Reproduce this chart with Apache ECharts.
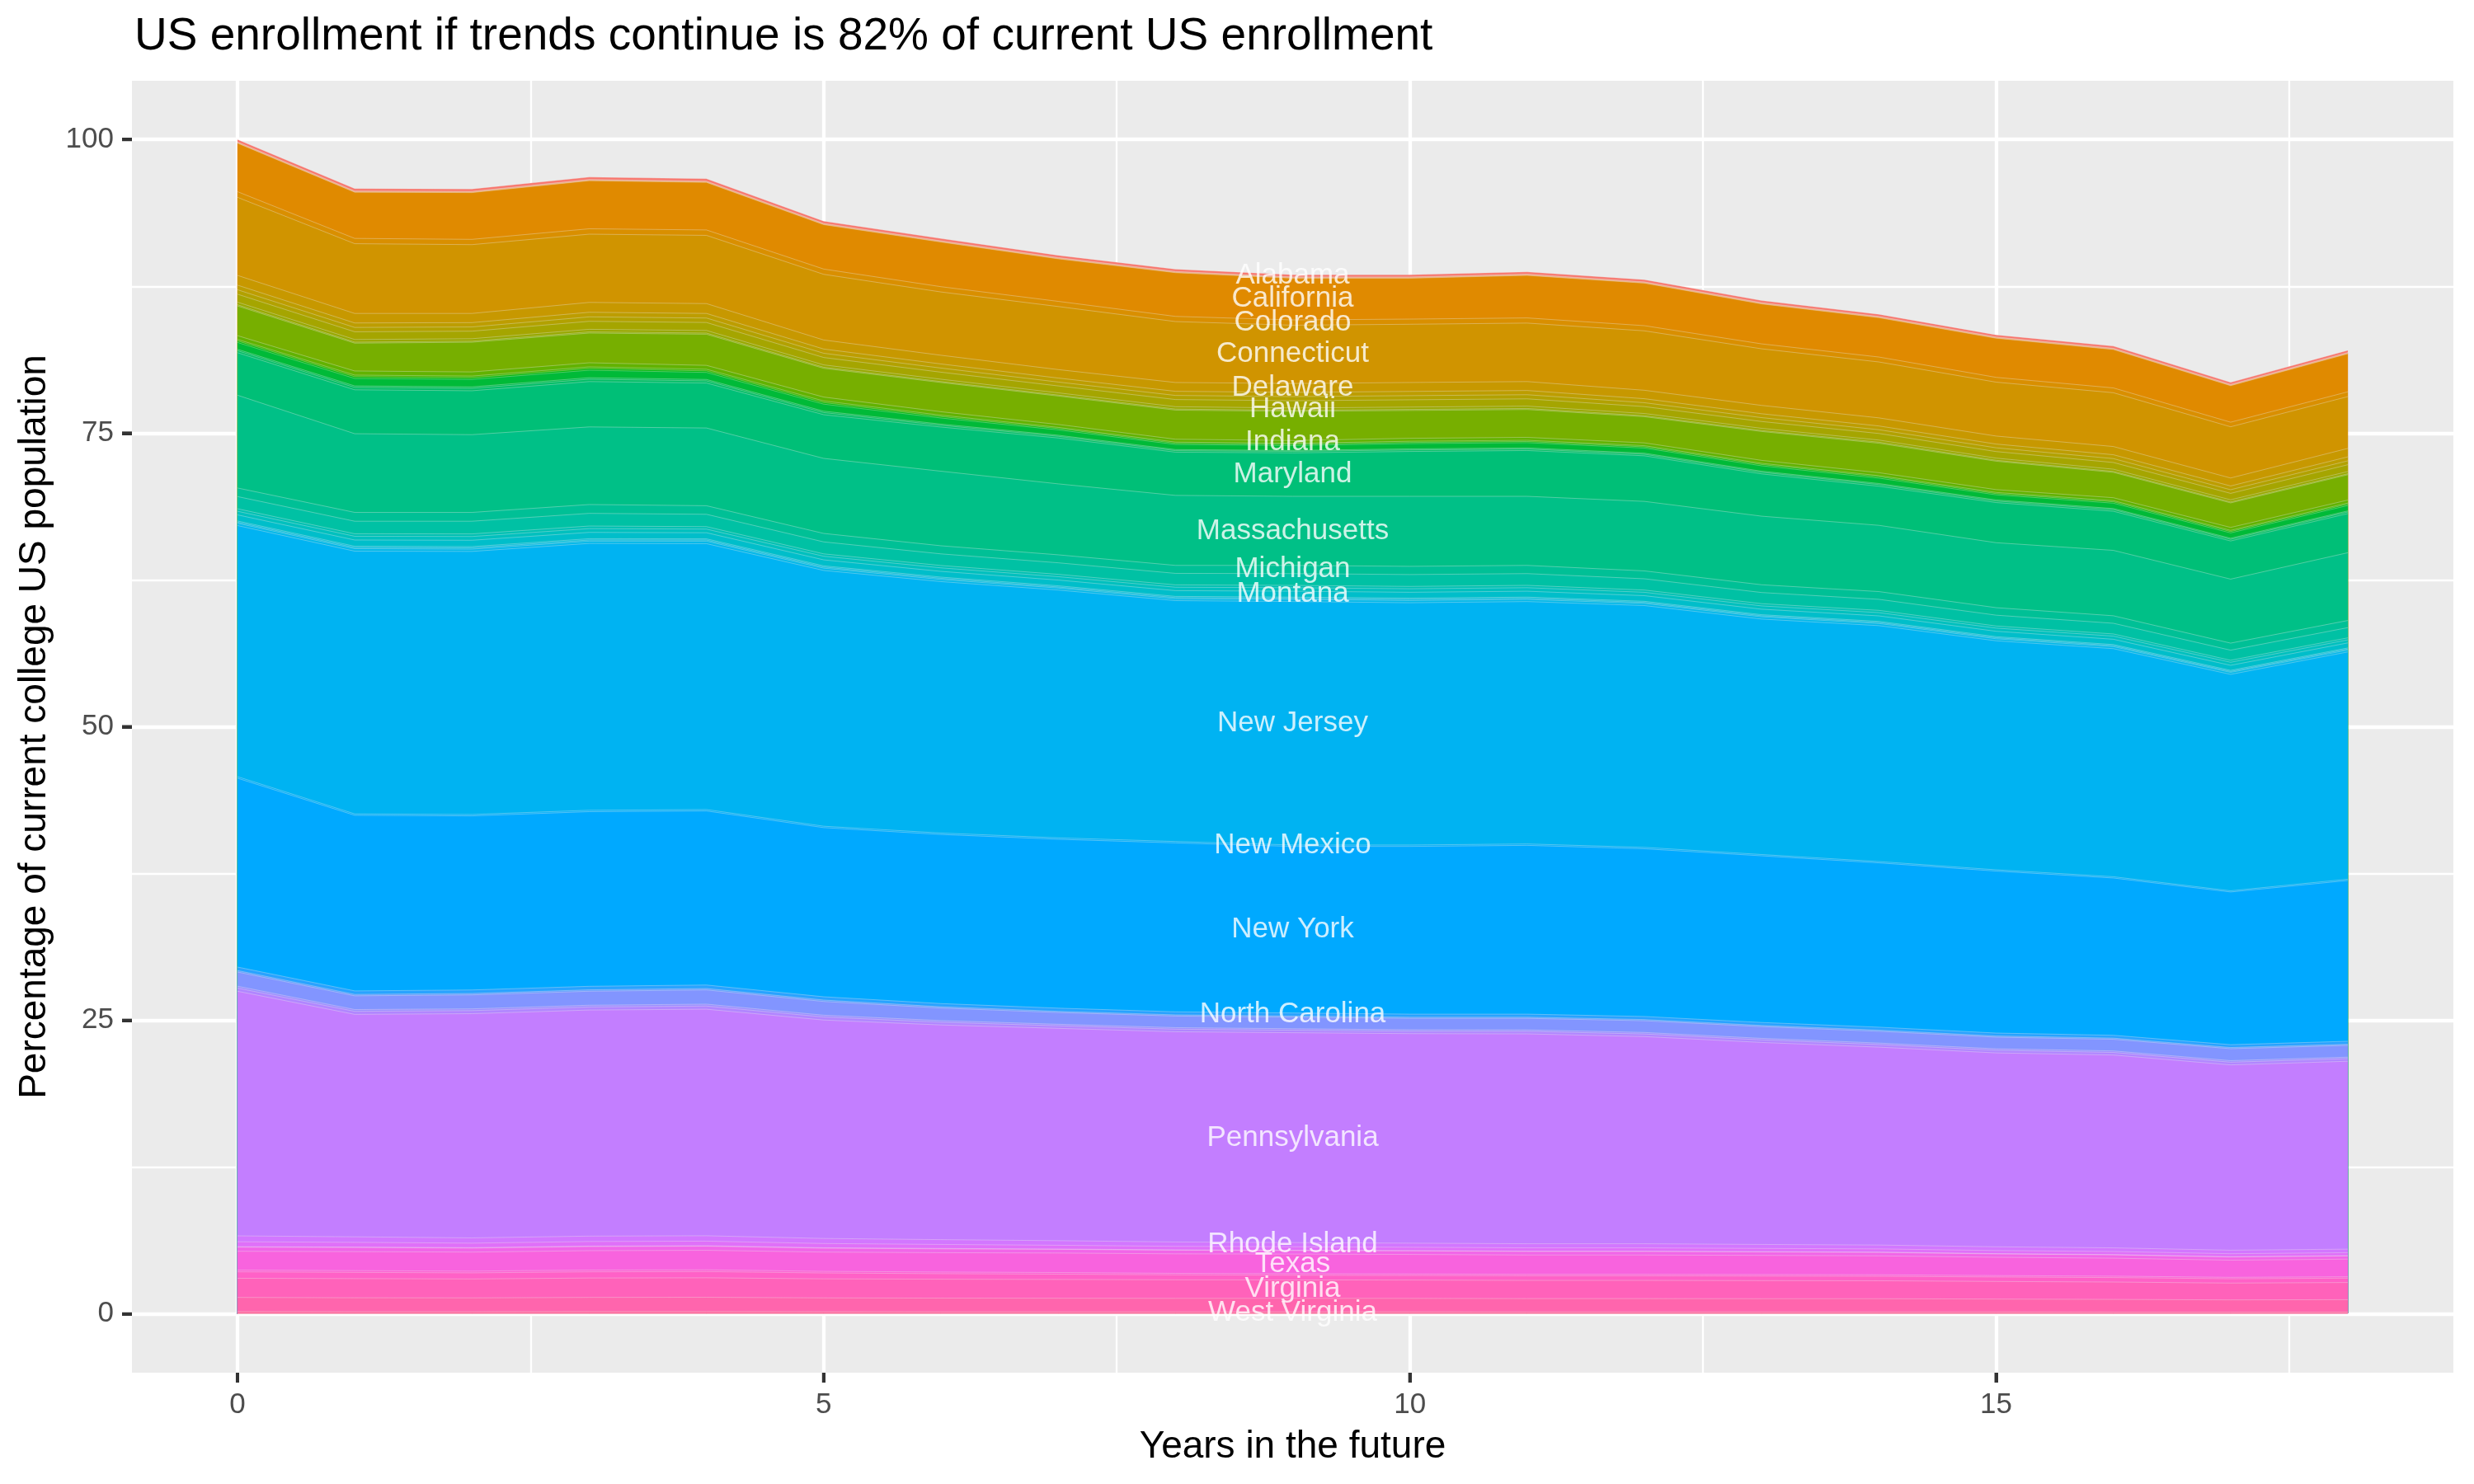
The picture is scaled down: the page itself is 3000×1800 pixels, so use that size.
<!DOCTYPE html>
<html>
<head>
<meta charset="utf-8">
<script src="https://cdn.jsdelivr.net/npm/echarts@6/dist/echarts.min.js"></script>
<style>html,body{margin:0;padding:0;background:#fff;}#c{width:3000px;height:1800px;}</style>
</head>
<body>
<div id="c"></div>
<script>
const years = [0,1,2,3,4,5,6,7,8,9,10,11,12,13,14,15,16,17,18];
const xTicks = [0,5,10,15];
const xMinor = [2.5,7.5,12.5,17.5];
const yTicks = [0,25,50,75,100];
const yMinor = [12.5,37.5,62.5,87.5];
const xRange = [-0.9, 18.9];
const yRange = [-5, 105];

const states = ["Alabama","Alaska","Arizona","Arkansas","California","Colorado","Connecticut","Delaware","District of Columbia","Florida","Georgia","Hawaii","Idaho","Illinois","Indiana","Iowa","Kansas","Kentucky","Louisiana","Maine","Maryland","Massachusetts","Michigan","Minnesota","Mississippi","Missouri","Montana","Nebraska","Nevada","New Hampshire","New Jersey","New Mexico","New York","North Carolina","North Dakota","Ohio","Oklahoma","Oregon","Pennsylvania","Rhode Island","South Carolina","South Dakota","Tennessee","Texas","Utah","Vermont","Virginia","Washington","West Virginia","Wisconsin","Wyoming"];

const labeledStates = ["Alabama","California","Colorado","Connecticut","Delaware","Hawaii","Indiana","Maryland","Massachusetts","Michigan","Montana","New Jersey","New Mexico","New York","North Carolina","Pennsylvania","Rhode Island","Texas","Virginia","West Virginia"];

const AL = [0.20,0.20,0.20,0.20,0.20,0.19,0.19,0.19,0.19,0.19,0.19,0.19,0.19,0.18,0.18,0.18,0.18,0.17,0.18];
const AK = [0.03,0.03,0.03,0.03,0.03,0.03,0.03,0.03,0.03,0.03,0.03,0.03,0.03,0.03,0.03,0.03,0.03,0.03,0.03];
const AZ = [0.05,0.05,0.05,0.05,0.05,0.05,0.05,0.05,0.05,0.05,0.05,0.05,0.05,0.05,0.05,0.05,0.05,0.05,0.05];
const AR = [0.03,0.03,0.03,0.03,0.03,0.03,0.03,0.03,0.03,0.03,0.03,0.03,0.03,0.03,0.03,0.03,0.03,0.03,0.03];
const CA = [4.13,3.93,3.98,4.09,4.05,3.78,3.80,3.62,3.72,3.55,3.48,3.62,3.62,3.40,3.35,3.33,3.27,3.11,3.24];
const CO = [0.48,0.45,0.45,0.46,0.46,0.45,0.45,0.44,0.44,0.45,0.44,0.44,0.44,0.42,0.42,0.41,0.41,0.39,0.41];
const CT = [6.65,5.94,5.86,5.81,5.81,5.59,5.39,5.37,5.19,4.96,4.96,4.98,5.06,4.82,4.76,4.59,4.58,4.36,4.41];
const DE = [0.83,0.81,0.78,0.84,0.84,0.77,0.74,0.72,0.75,0.76,0.76,0.76,0.72,0.71,0.69,0.68,0.70,0.68,0.72];
const DC = [0.39,0.38,0.37,0.39,0.39,0.36,0.35,0.34,0.35,0.36,0.36,0.36,0.34,0.33,0.32,0.32,0.33,0.32,0.34];
const FL = [0.38,0.37,0.36,0.38,0.38,0.36,0.35,0.33,0.35,0.35,0.35,0.35,0.33,0.33,0.32,0.32,0.33,0.31,0.33];
const GA = [0.68,0.66,0.64,0.68,0.68,0.63,0.60,0.59,0.61,0.62,0.62,0.62,0.59,0.58,0.56,0.56,0.57,0.55,0.58];
const HI = [0.22,0.22,0.21,0.22,0.22,0.20,0.20,0.19,0.20,0.20,0.20,0.20,0.19,0.19,0.18,0.18,0.19,0.18,0.19];
const ID = [0.10,0.09,0.09,0.10,0.10,0.09,0.08,0.08,0.09,0.09,0.09,0.09,0.08,0.08,0.09,0.08,0.08,0.08,0.08];
const IL = [2.53,2.37,2.53,2.53,2.65,2.45,2.49,2.42,2.48,2.48,2.37,2.37,2.23,2.46,2.51,2.42,2.16,2.09,2.16];
const IN = [0.32,0.35,0.35,0.35,0.33,0.33,0.29,0.25,0.24,0.23,0.25,0.25,0.24,0.25,0.25,0.24,0.25,0.25,0.25];
const IA = [0.13,0.14,0.14,0.14,0.14,0.14,0.12,0.10,0.10,0.09,0.10,0.10,0.10,0.10,0.10,0.10,0.10,0.10,0.10];
const KS = [0.13,0.14,0.14,0.14,0.13,0.13,0.12,0.11,0.10,0.10,0.10,0.10,0.10,0.11,0.11,0.10,0.11,0.11,0.11];
const KY = [0.58,0.64,0.64,0.64,0.60,0.60,0.52,0.46,0.44,0.42,0.45,0.45,0.44,0.46,0.46,0.44,0.46,0.46,0.46];
const LA = [0.12,0.13,0.13,0.13,0.12,0.12,0.10,0.09,0.09,0.08,0.09,0.09,0.09,0.09,0.09,0.09,0.09,0.09,0.09];
const ME = [0.17,0.20,0.20,0.20,0.18,0.18,0.15,0.14,0.13,0.13,0.13,0.13,0.13,0.14,0.14,0.13,0.14,0.14,0.14];
const MD = [3.62,3.74,3.74,3.86,3.83,3.72,3.76,3.91,3.68,3.70,3.82,3.90,3.88,3.60,3.33,3.42,3.33,3.25,3.33];
const MA = [7.90,6.70,6.62,6.61,6.62,6.39,6.35,6.04,5.96,5.88,5.96,5.88,5.92,5.84,5.64,5.53,5.57,5.45,5.77];
const MI = [0.73,0.75,0.75,0.75,0.73,0.72,0.69,0.68,0.68,0.70,0.70,0.70,0.67,0.66,0.66,0.64,0.64,0.60,0.61];
const MN = [1.04,1.07,1.08,1.08,1.05,1.02,0.99,0.98,0.98,1.00,1.01,1.00,0.96,0.95,0.94,0.92,0.91,0.86,0.87];
const MS = [0.21,0.21,0.22,0.22,0.21,0.20,0.20,0.20,0.20,0.20,0.20,0.20,0.19,0.19,0.19,0.18,0.18,0.17,0.17];
const MO = [0.31,0.32,0.32,0.32,0.31,0.31,0.30,0.29,0.29,0.30,0.30,0.30,0.29,0.28,0.28,0.27,0.27,0.26,0.26];
const MT = [0.52,0.53,0.54,0.54,0.52,0.51,0.49,0.49,0.49,0.50,0.50,0.50,0.48,0.47,0.47,0.46,0.45,0.43,0.43];
const NE = [0.10,0.11,0.11,0.11,0.10,0.10,0.10,0.10,0.10,0.10,0.10,0.10,0.09,0.09,0.09,0.09,0.09,0.09,0.09];
const NV = [0.10,0.10,0.11,0.10,0.10,0.10,0.10,0.09,0.10,0.10,0.10,0.10,0.09,0.09,0.09,0.09,0.09,0.08,0.09];
const NH = [0.19,0.21,0.19,0.19,0.21,0.19,0.18,0.17,0.16,0.18,0.19,0.18,0.18,0.19,0.18,0.17,0.17,0.17,0.16];
const NJ = [21.38,22.37,22.40,22.72,22.64,21.78,21.41,21.10,20.51,20.73,20.63,20.64,20.59,20.05,20.09,19.50,19.42,18.43,19.35];
const NM = [0.13,0.12,0.12,0.12,0.12,0.12,0.12,0.12,0.12,0.12,0.12,0.12,0.12,0.11,0.11,0.11,0.11,0.10,0.11];
const NY = [16.08,14.95,14.82,14.87,14.82,14.40,14.40,14.38,14.38,14.18,14.28,14.37,14.28,14.19,13.99,13.79,13.39,13.00,13.69];
const NC = [0.30,0.30,0.30,0.30,0.30,0.28,0.27,0.27,0.26,0.26,0.26,0.26,0.26,0.25,0.25,0.25,0.24,0.24,0.25];
const ND = [0.12,0.12,0.12,0.12,0.12,0.12,0.11,0.10,0.10,0.10,0.10,0.10,0.10,0.10,0.10,0.10,0.10,0.10,0.10];
const OH = [1.21,1.17,1.19,1.19,1.21,1.17,1.07,1.00,0.99,0.98,0.97,0.98,1.00,1.00,1.00,0.99,0.99,1.02,1.00];
const OK = [0.16,0.15,0.15,0.15,0.16,0.15,0.14,0.13,0.13,0.13,0.13,0.13,0.13,0.13,0.13,0.13,0.13,0.13,0.13];
const OR = [0.27,0.26,0.26,0.26,0.27,0.26,0.23,0.22,0.22,0.21,0.20,0.21,0.22,0.22,0.22,0.22,0.22,0.23,0.22];
const PA = [20.83,18.94,19.09,19.25,19.29,18.60,18.28,18.08,17.90,17.87,17.84,17.87,17.64,17.20,16.85,16.51,16.42,15.78,16.00];
const RI = [0.50,0.47,0.45,0.46,0.46,0.43,0.41,0.39,0.37,0.36,0.35,0.35,0.35,0.34,0.33,0.32,0.31,0.30,0.30];
const SC = [0.42,0.40,0.38,0.39,0.39,0.36,0.34,0.32,0.30,0.29,0.28,0.28,0.28,0.27,0.27,0.26,0.26,0.25,0.25];
const SD = [0.04,0.04,0.04,0.04,0.04,0.04,0.04,0.03,0.03,0.03,0.03,0.03,0.03,0.03,0.03,0.03,0.03,0.03,0.03];
const TN = [0.35,0.35,0.34,0.35,0.35,0.33,0.32,0.31,0.31,0.30,0.30,0.30,0.30,0.29,0.29,0.28,0.28,0.27,0.27];
const TX = [1.60,1.62,1.62,1.65,1.66,1.64,1.65,1.66,1.66,1.67,1.66,1.64,1.64,1.63,1.61,1.56,1.53,1.46,1.50];
const UT = [0.15,0.15,0.15,0.15,0.15,0.14,0.14,0.14,0.13,0.13,0.13,0.13,0.13,0.13,0.13,0.12,0.12,0.12,0.12];
const VT = [0.55,0.53,0.52,0.53,0.53,0.50,0.47,0.45,0.42,0.40,0.39,0.39,0.39,0.39,0.38,0.38,0.38,0.37,0.37];
const VA = [1.63,1.63,1.61,1.65,1.66,1.62,1.61,1.60,1.58,1.57,1.56,1.55,1.55,1.54,1.53,1.50,1.48,1.43,1.46];
const WA = [1.20,1.18,1.17,1.20,1.21,1.17,1.16,1.15,1.14,1.14,1.14,1.13,1.13,1.12,1.12,1.09,1.07,1.03,1.05];
const WV = [0.17,0.16,0.16,0.17,0.17,0.16,0.15,0.15,0.15,0.15,0.15,0.14,0.14,0.14,0.14,0.14,0.13,0.13,0.13];
const WI = [0.02,0.02,0.02,0.02,0.02,0.02,0.02,0.02,0.02,0.02,0.02,0.02,0.02,0.02,0.02,0.02,0.02,0.02,0.02];
const WY = [0.02,0.02,0.02,0.02,0.02,0.02,0.02,0.02,0.02,0.02,0.02,0.02,0.02,0.02,0.02,0.02,0.02,0.02,0.02];

const stateValues = [AL,AK,AZ,AR,CA,CO,CT,DE,DC,FL,GA,HI,ID,IL,IN,IA,KS,KY,LA,ME,MD,MA,MI,MN,MS,MO,MT,NE,NV,NH,NJ,NM,NY,NC,ND,OH,OK,OR,PA,RI,SC,SD,TN,TX,UT,VT,VA,WA,WV,WI,WY];

const labelYear = 9;

// ggplot2 default hue palette: hcl(h, c=100, l=65)
function hcl2hex(h, c, l) {
  const Xn = 95.047, Yn = 100.0, Zn = 108.883;
  const hr = h * Math.PI / 180;
  const U = c * Math.cos(hr), V = c * Math.sin(hr);
  const Y = l > 8 ? Yn * Math.pow((l + 16) / 116, 3) : Yn * l / 903.3;
  const t = Xn + Yn + Zn;
  const x = Xn / t, y = Yn / t;
  const un = 2 * x / (6 * y - x + 1.5), vn = 4.5 * y / (6 * y - x + 1.5);
  const u = U / (13 * l) + un, v = V / (13 * l) + vn;
  const X = 9.0 * Y * u / (4 * v);
  const Z = -X / 3 - 5 * Y + 3 * Y / v;
  const lin = [
    ( 3.240479 * X - 1.537150 * Y - 0.498535 * Z) / 100,
    (-0.969256 * X + 1.875992 * Y + 0.041556 * Z) / 100,
    ( 0.055648 * X - 0.204043 * Y + 1.057311 * Z) / 100
  ];
  const g = lin.map(cv => {
    let s = cv > 0.0031308 ? 1.055 * Math.pow(cv, 1 / 2.4) - 0.055 : 12.92 * cv;
    s = Math.max(0, Math.min(1, s));
    return Math.round(s * 255);
  });
  return '#' + g.map(n => n.toString(16).padStart(2, '0')).join('');
}
const n = states.length;
const colors = states.map((s, i) => hcl2hex(15 + 360 * i / n, 100, 65));

const FONT = '"Liberation Sans", Arial, Helvetica, sans-serif';

// Stack like ggplot (first level on top)
const stackTop = [];
const stackMid = [];
{
  const run = years.map(() => 0);
  for (let i = n - 1; i >= 0; i--) {
    stackMid[i] = run.map((r, j) => r + stateValues[i][j] / 2);
    for (let j = 0; j < years.length; j++) run[j] += stateValues[i][j];
    stackTop[i] = run.slice();
  }
}

const series = [];
for (let i = 0; i < n; i++) {
  series.push({
    type: 'line',
    name: states[i],
    symbol: 'none',
    silent: true,
    xAxisIndex: 0, yAxisIndex: 0,
    data: years.map((yr, j) => [yr, stackTop[i][j]]),
    lineStyle: { width: 1, color: 'rgba(235,235,235,0.35)' },
    areaStyle: { color: colors[i], opacity: 1, origin: 'auto' },
    z: 2
  });
}

const labelIdx = years.indexOf(labelYear);
series.push({
  type: 'scatter',
  name: 'labels',
  silent: true,
  xAxisIndex: 0, yAxisIndex: 0,
  symbol: 'circle',
  symbolSize: 2,
  itemStyle: { color: 'rgba(0,0,0,0)' },
  z: 10,
  zlevel: 1,
  data: labeledStates.map(s => ({ name: s, value: [labelYear, stackMid[states.indexOf(s)][labelIdx]] })),
  label: {
    show: true, position: 'inside', formatter: '{b}', offset: [0, 4],
    color: '#ffffff', fontSize: 35, fontFamily: FONT, textBorderWidth: 0
  },
  labelLayout: { hideOverlap: false }
});

const W = 3000, H = 1800;
const GRID = { left: 160, right: 25, top: 98, bottom: 135 };

// helper axes whose zero sits on the panel edge (the main axes' ticks attach there)
const xMinorShifted = xMinor.map(v => v - xRange[0]);
const yMinorShifted = yMinor.map(v => v - yRange[0]);

const plotW = W - GRID.left - GRID.right, plotH = H - GRID.top - GRID.bottom;
const toPxX = v => GRID.left + (v - xRange[0]) / (xRange[1] - xRange[0]) * plotW;
const toPxY = v => GRID.top + (yRange[1] - v) / (yRange[1] - yRange[0]) * plotH;
const TICK_LEN = 12, TICK_W = 4;
const tickEls = [];
yTicks.forEach(v => tickEls.push({
  type: 'rect', silent: true, z: 50,
  shape: { x: GRID.left - TICK_LEN, y: toPxY(v) - TICK_W / 2, width: TICK_LEN, height: TICK_W },
  style: { fill: '#333333' }
}));
xTicks.forEach(v => tickEls.push({
  type: 'rect', silent: true, z: 50,
  shape: { x: toPxX(v) - TICK_W / 2, y: H - GRID.bottom, width: TICK_W, height: TICK_LEN },
  style: { fill: '#333333' }
}));

const chart = echarts.init(document.getElementById('c'), null, { renderer: 'canvas' });
chart.setOption({
  animation: false,
  backgroundColor: '#ffffff',
  title: {
    text: 'US enrollment if trends continue is 82% of current US enrollment',
    left: 158, top: 12,
    textStyle: { fontFamily: FONT, fontSize: 55, fontWeight: 'normal', color: '#000000' }
  },
  grid: {
    left: GRID.left, right: GRID.right, top: GRID.top, bottom: GRID.bottom,
    show: true, backgroundColor: '#EBEBEB', borderWidth: 0
  },
  graphic: tickEls,
  xAxis: [{
    type: 'value', min: xRange[0], max: xRange[1],
    name: 'Years in the future', nameLocation: 'middle', nameGap: 67,
    nameTextStyle: { fontFamily: FONT, fontSize: 46, color: '#000000' },
    axisLine: { show: false, onZero: true, onZeroAxisIndex: 1 },
    axisTick: { show: true, customValues: xTicks, length: TICK_LEN, lineStyle: { color: '#333333', width: TICK_W } },
    axisLabel: { customValues: xTicks, fontFamily: FONT, fontSize: 35, color: '#4D4D4D', margin: 22 },
    splitLine: { show: true, lineStyle: { color: '#ffffff', width: 4.3 } }
  }, {
    type: 'value', min: 0, max: xRange[1] - xRange[0], position: 'bottom',
    axisLine: { show: false, onZero: false },
    axisTick: { show: false, customValues: xMinorShifted },
    axisLabel: { show: false, customValues: xMinorShifted },
    splitLine: { show: true, lineStyle: { color: '#ffffff', width: 2.3 } }
  }],
  yAxis: [{
    type: 'value', min: yRange[0], max: yRange[1],
    name: 'Percentage of current college US population', nameLocation: 'middle', nameGap: 95, nameRotate: 90,
    nameTextStyle: { fontFamily: FONT, fontSize: 46, color: '#000000' },
    axisLine: { show: false, onZero: true, onZeroAxisIndex: 1 },
    axisTick: { show: true, customValues: yTicks, length: TICK_LEN, lineStyle: { color: '#333333', width: TICK_W } },
    axisLabel: { customValues: yTicks, fontFamily: FONT, fontSize: 35, color: '#4D4D4D', margin: 22 },
    splitLine: { show: true, lineStyle: { color: '#ffffff', width: 4.3 } }
  }, {
    type: 'value', min: 0, max: yRange[1] - yRange[0], position: 'left',
    axisLine: { show: false, onZero: false },
    axisTick: { show: false, customValues: yMinorShifted },
    axisLabel: { show: false, customValues: yMinorShifted },
    splitLine: { show: true, lineStyle: { color: '#ffffff', width: 2.3 } }
  }],
  series: series
});
</script>
</body>
</html>
